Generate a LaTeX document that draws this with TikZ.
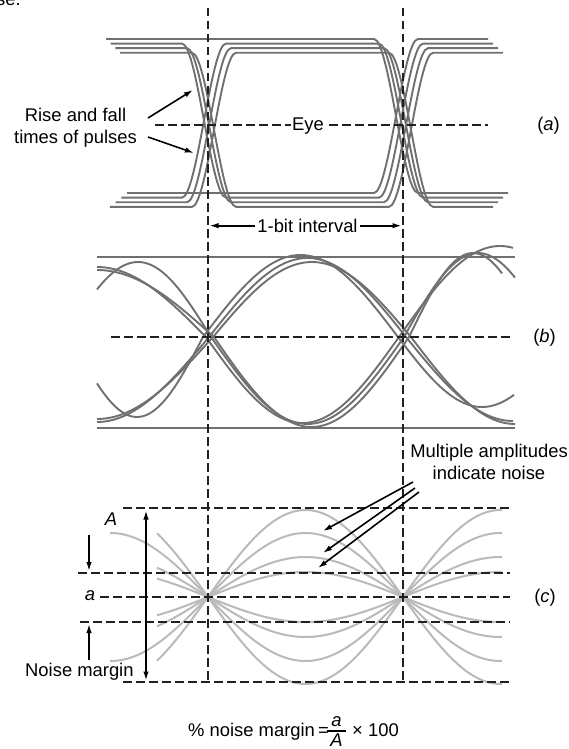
\documentclass[tikz,border=0pt]{standalone}
\usepackage{fontspec}
\setmainfont{Liberation Sans}
\usetikzlibrary{arrows.meta}
\definecolor{pulsecol}{RGB}{112,112,112}
\definecolor{noisecol}{RGB}{186,186,186}
\definecolor{dashcol}{RGB}{35,31,32}
\begin{document}
\begin{tikzpicture}[x=1pt,y=-1pt,font=\fontsize{18.4}{22}\selectfont,
  pulse/.style={draw=pulsecol,line width=1.9pt},
  noise/.style={draw=noisecol,line width=2pt},
  guide/.style={draw=dashcol,line width=2.3pt,dash pattern=on 8.5pt off 4.5pt},
  arr/.style={draw=black,line width=1.6pt,-{Latex[length=9pt,width=5.5pt]}},
  dbl/.style={draw=black,line width=1.6pt,{Latex[length=9pt,width=5.5pt]}-{Latex[length=9pt,width=5.5pt]}},
  lbl/.style={inner sep=0pt,anchor=base}]
\useasboundingbox (0,0) rectangle (569,749);

% ---------- (a) pulses ----------
\foreach \k in {1,2,3}{
  \pgfmathsetmacro\tY{39+4.6*\k}
  \pgfmathsetmacro\bY{193+4.6*\k}
  \pgfmathsetmacro\xa{177+5*\k}
  \pgfmathsetmacro\xb{221+5*\k}
  \pgfmathsetmacro\xc{374+5*\k}
  \pgfmathsetmacro\xd{418+5*\k}
  \draw[pulse] ({106+4.7*\k},\tY) -- (\xa,\tY) .. controls ({\xa+15},\tY) and ({\xb-15},\bY) .. (\xb,\bY)
     -- (\xc,\bY) .. controls ({\xc+15},\bY) and ({\xd-15},\tY) .. (\xd,\tY) -- ({488+5*\k},\tY);
  \draw[pulse] ({127-5.7*\k},\bY) -- (\xa,\bY) .. controls ({\xa+15},\bY) and ({\xb-15},\tY) .. (\xb,\tY)
     -- (\xc,\tY) .. controls ({\xc+15},\tY) and ({\xd-15},\bY) .. (\xd,\bY) -- ({508-5*\k},\bY);
}
\draw[pulse] (106,39) -- (374,39) .. controls (389,39) and (403,193) .. (418,193) -- (508,193);
\draw[pulse] (127,193) -- (374,193) .. controls (389,193) and (403,39) .. (418,39) -- (488,39);

% ---------- (b) eye ----------
\draw[pulse] (97,257) -- (515,257);
\draw[pulse] (97,428) -- (515,428);
\foreach \bS/\bXl/\bAl/\bPl/\bAm/\bXr/\bAr/\bPr/\bXe in {
  1/211/75/146/87/404/84/148/515,
  1/206/70/218/86/399/91/202/513,
  1/214/67/234/90/409/84/128/502,
  -1/203/80/132/82/398/70/168/514,
  -1/209/85/224/79/406/84/214/513,
  -1/213/82/232/75/411/87/208/515}{
  \draw[pulse] plot[domain=97:\bXl,samples=40] (\x,{337+(\bS)*\bAl*sin(((\x-\bXl)/\bPl)*180)})
    -- plot[domain=\bXl:\bXr,samples=60] (\x,{337+(\bS)*\bAm*sin(((\x-\bXl)/(\bXr-\bXl))*180)})
    -- plot[domain=\bXr:\bXe,samples=40] (\x,{337-(\bS)*\bAr*sin(((\x-\bXr)/\bPr)*180)});
}

% ---------- (c) noise ----------
\foreach \cA/\cX in {87/157,64/110,40/157,25/157,-87/157,-64/110,-40/157,-25/157}{
  \draw[noise] plot[domain=\cX:502,samples=130] (\x,{597-(\cA)*sin(((\x-208)/195)*180)});
}

% ---------- dashed guides ----------
\coordinate (vL1) at (208,8);  \coordinate (vL2) at (208,682);
\coordinate (vR1) at (403,8);  \coordinate (vR2) at (403,682);
\draw[guide] (vL1) -- (vL2);
\draw[guide] (vR1) -- (vR2);
\coordinate (ha1) at (155,125); \coordinate (ha2) at (291,125);
\coordinate (ha3) at (329,125); \coordinate (ha4) at (488,125);
\draw[guide] (ha1) -- (ha2);
\draw[guide] (ha3) -- (ha4);
\coordinate (hb1) at (111,337); \coordinate (hb2) at (512,337);
\draw[guide] (hb1) -- (hb2);
\coordinate (hc1) at (123,508); \coordinate (hc2) at (510,508);
\coordinate (hc3) at (78,573);  \coordinate (hc4) at (510,573);
\coordinate (hc5) at (100,597); \coordinate (hc6) at (510,597);
\coordinate (hc7) at (80,622);  \coordinate (hc8) at (510,622);
\coordinate (hc9) at (123,682); \coordinate (hc10) at (510,682);
\draw[guide] (hc1) -- (hc2);
\draw[guide] (hc3) -- (hc4);
\draw[guide] (hc5) -- (hc6);
\draw[guide] (hc7) -- (hc8);
\draw[guide] (hc9) -- (hc10);

% ---------- texts ----------
\node[lbl,anchor=base west] (se) at (-4,5.5) {se.};
\node[lbl] (rf1) at (75.5,121.7) {Rise and fall};
\node[lbl] (rf2) at (75.5,143) {times of pulses};
\node[lbl] (eye) at (308,131) {Eye};
\node[lbl] (la) at (548.5,131) {(\textit{a})};
\node[inner sep=2.5pt] (bit) at (307.5,225.7) {1-bit interval};
\node[lbl] (lb) at (544.5,342) {(\textit{b})};
\node[lbl] (mult1) at (489,457) {Multiple amplitudes};
\node[lbl] (mult2) at (489,479) {indicate noise};
\node[lbl] (cA) at (111,525.6) {\textit{A}};
\node[lbl] (ca) at (90,600) {\textit{a}};
\node[lbl] (lc) at (545,602) {(\textit{c})};
\node[lbl,anchor=base west] (nmg) at (25,676) {Noise margin};
\node[lbl,anchor=base west] (pct) at (188,736) {\% noise margin};
\node[lbl,anchor=base west] (eq) at (318,736) {=};
\coordinate (fb1) at (327,731); \coordinate (fb2) at (346,731);
\draw[line width=1.1pt] (fb1) -- (fb2);
\node[lbl] (fa) at (336.5,726.5) {\textit{a}};
\node[lbl] (fA) at (336.5,746.5) {\textit{A}};
\node[lbl,anchor=base west] (tms) at (352,736) {× 100};

% ---------- arrows ----------
\coordinate (rfA) at (148,118);  \coordinate (rfAt) at (193,90);
\coordinate (rfB) at (148,137);  \coordinate (rfBt) at (194,153);
\draw[arr] (rfA) -- (rfAt);
\draw[arr] (rfB) -- (rfBt);
\coordinate (bitL) at (209.5,225.7); \coordinate (bitR) at (401.5,225.7);
\draw[arr] (bit.west) -- (bitL);
\draw[arr] (bit.east) -- (bitR);
\coordinate (m1s) at (413,482); \coordinate (m1t) at (323,531);
\coordinate (m2s) at (415,488); \coordinate (m2t) at (323,553);
\coordinate (m3s) at (419,492); \coordinate (m3t) at (318,568);
\draw[arr] (m1s) -- (m1t);
\draw[arr] (m2s) -- (m2t);
\draw[arr] (m3s) -- (m3t);
\coordinate (bigT) at (146,510.5); \coordinate (bigB) at (146,680.5);
\draw[dbl] (bigT) -- (bigB);
\coordinate (nd1) at (89,535); \coordinate (nd2) at (89,571);
\draw[arr] (nd1) -- (nd2);
\coordinate (nu1) at (89,660); \coordinate (nu2) at (89,624);
\draw[arr] (nu1) -- (nu2);
\end{tikzpicture}
\end{document}
